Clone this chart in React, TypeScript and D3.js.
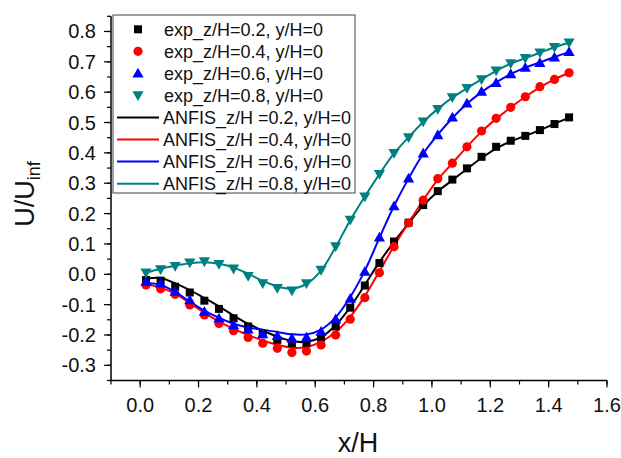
import React from "react";
import * as d3 from "d3";

const W = 621;
const H = 458;

const xValues = [0.02, 0.07, 0.12, 0.17, 0.22, 0.27, 0.32, 0.37, 0.42, 0.47, 0.52, 0.57, 0.62, 0.67, 0.72, 0.77, 0.82, 0.87, 0.92, 0.97, 1.02, 1.07, 1.12, 1.17, 1.22, 1.27, 1.32, 1.37, 1.42, 1.47];

const expZ02 = [-0.019, -0.021, -0.041, -0.06, -0.087, -0.114, -0.145, -0.172, -0.197, -0.216, -0.227, -0.227, -0.209, -0.172, -0.11, -0.037, 0.037, 0.108, 0.17, 0.228, 0.274, 0.312, 0.349, 0.387, 0.42, 0.44, 0.456, 0.475, 0.495, 0.517];
const expZ04 = [-0.035, -0.048, -0.066, -0.101, -0.134, -0.162, -0.186, -0.208, -0.227, -0.244, -0.258, -0.253, -0.233, -0.2, -0.148, -0.077, 0.005, 0.091, 0.169, 0.244, 0.315, 0.366, 0.42, 0.472, 0.514, 0.55, 0.585, 0.618, 0.642, 0.664];
const expZ06 = [-0.024, -0.03, -0.057, -0.085, -0.123, -0.145, -0.167, -0.181, -0.197, -0.203, -0.211, -0.208, -0.189, -0.148, -0.08, 0.009, 0.122, 0.225, 0.316, 0.399, 0.459, 0.517, 0.563, 0.602, 0.631, 0.66, 0.681, 0.697, 0.715, 0.733];
const expZ08 = [0.005, 0.016, 0.027, 0.038, 0.042, 0.033, 0.018, -0.006, -0.03, -0.046, -0.054, -0.03, 0.014, 0.092, 0.179, 0.256, 0.33, 0.399, 0.451, 0.503, 0.544, 0.583, 0.613, 0.642, 0.671, 0.695, 0.712, 0.73, 0.748, 0.763];

const anfisZ02 = [-0.015, -0.012, -0.03, -0.052, -0.078, -0.106, -0.136, -0.163, -0.185, -0.205, -0.22, -0.223, -0.207, -0.168, -0.108, -0.035, 0.04, 0.107, 0.168, 0.226, 0.273, 0.31, 0.347, 0.383, 0.414, 0.438, 0.456, 0.475, 0.496, 0.516];
const anfisZ04 = [-0.032, -0.044, -0.064, -0.095, -0.127, -0.155, -0.18, -0.2, -0.218, -0.232, -0.242, -0.24, -0.222, -0.19, -0.14, -0.072, 0.01, 0.093, 0.17, 0.244, 0.312, 0.366, 0.42, 0.47, 0.512, 0.55, 0.585, 0.616, 0.642, 0.664];
const anfisZ06 = [-0.028, -0.035, -0.058, -0.09, -0.12, -0.143, -0.163, -0.175, -0.183, -0.19, -0.198, -0.198, -0.182, -0.142, -0.075, 0.012, 0.12, 0.225, 0.316, 0.397, 0.46, 0.515, 0.562, 0.6, 0.632, 0.66, 0.681, 0.698, 0.716, 0.732];
const anfisZ08 = [0.005, 0.018, 0.028, 0.036, 0.04, 0.035, 0.022, 0.002, -0.022, -0.04, -0.048, -0.032, 0.012, 0.09, 0.178, 0.256, 0.33, 0.398, 0.452, 0.502, 0.545, 0.582, 0.613, 0.642, 0.67, 0.694, 0.712, 0.73, 0.748, 0.763];

const expLabels = ["exp_z/H=0.2, y/H=0", "exp_z/H=0.4, y/H=0", "exp_z/H=0.6, y/H=0", "exp_z/H=0.8, y/H=0"];
const anfisLabels = ["ANFIS_z/H =0.2, y/H=0", "ANFIS_z/H =0.4, y/H=0", "ANFIS_z/H =0.6, y/H=0", "ANFIS_z/H =0.8, y/H=0"];
const colors = ["#000000", "#ff0000", "#0000ff", "#008080"];
const symbols = ["square", "circle", "up", "down"];

const xTicks = [0, 0.2, 0.4, 0.6, 0.8, 1.0, 1.2, 1.4, 1.6];
const yTicks = [-0.3, -0.2, -0.1, 0.0, 0.1, 0.2, 0.3, 0.4, 0.5, 0.6, 0.7, 0.8];

const FONT = "'Liberation Sans', Arial, sans-serif";

function Marker({ kind, x, y, color }: { kind: string; x: number; y: number; color: string }) {
  if (kind === "square") return <rect x={x - 4} y={y - 4} width={8} height={8} fill={color} />;
  if (kind === "circle") return <circle cx={x} cy={y} r={4.6} fill={color} />;
  if (kind === "up") {
    const s = 5.6;
    return <path d={`M${x},${y - s}L${x + s},${y + s * 0.75}L${x - s},${y + s * 0.75}Z`} fill={color} />;
  }
  const s = 5.6;
  return <path d={`M${x},${y + s}L${x + s},${y - s * 0.75}L${x - s},${y - s * 0.75}Z`} fill={color} />;
}

export default function App() {
  const x = d3.scaleLinear().domain([-0.1, 1.6]).range([111, 607]);
  const y = d3.scaleLinear().domain([-0.35, 0.85]).range([380.5, 16.3]);
  const exp = [expZ02, expZ04, expZ06, expZ08];
  const anfis = [anfisZ02, anfisZ04, anfisZ06, anfisZ08];
  const line = d3
    .line<number>()
    .x((_, i) => x(xValues[i]))
    .y((d) => y(d))
    .curve(d3.curveCatmullRom.alpha(0.5));

  const xMinor = d3.range(-0.1, 1.61, 0.1).map((v) => +v.toFixed(2));
  const yMinor = d3.range(-0.35, 0.851, 0.05).map((v) => +v.toFixed(3));
  const x0 = x(-0.1);
  const y0 = y(-0.35);

  const legX = 113, legY = 15, legW = 242, legH = 178;
  const rowH = 22.05;

  return (
    <svg width={W} height={H} style={{ position: "absolute", left: 0, top: 0, background: "#fff" }} fontFamily={FONT}>
      <rect x={0} y={0} width={W} height={H} fill="#ffffff" />
      {anfis.map((vals, k) => (
        <path key={"l" + k} d={line(vals) || ""} fill="none" stroke={colors[k]} strokeWidth={2} />
      ))}
      {exp.map((vals, k) =>
        vals.map((v, i) => <Marker key={"m" + k + "-" + i} kind={symbols[k]} x={x(xValues[i])} y={y(v)} color={colors[k]} />)
      )}
      <line x1={x0} x2={x(1.6)} y1={y0} y2={y0} stroke="#000" strokeWidth={1.5} />
      <line x1={x0} x2={x0} y1={y0} y2={y(0.85)} stroke="#000" strokeWidth={1.5} />
      {xMinor.map((v) => (
        <line key={"xm" + v} x1={x(v)} x2={x(v)} y1={y0} y2={y0 + 4} stroke="#000" strokeWidth={1.2} />
      ))}
      {xTicks.map((v) => (
        <g key={"xt" + v}>
          <line x1={x(v)} x2={x(v)} y1={y0} y2={y0 + 7} stroke="#000" strokeWidth={1.2} />
          <text x={x(v)} y={412} textAnchor="middle" fontSize={20} fill="#111">
            {v.toFixed(1)}
          </text>
        </g>
      ))}
      {yMinor.map((v) => (
        <line key={"ym" + v} x1={x0 - 4} x2={x0} y1={y(v)} y2={y(v)} stroke="#000" strokeWidth={1.2} />
      ))}
      {yTicks.map((v) => (
        <g key={"yt" + v}>
          <line x1={x0 - 7} x2={x0} y1={y(v)} y2={y(v)} stroke="#000" strokeWidth={1.2} />
          <text x={96} y={y(v)} dy="0.35em" textAnchor="end" fontSize={20} fill="#111">
            {v.toFixed(1)}
          </text>
        </g>
      ))}
      <text x={358} y={452} textAnchor="middle" fontSize={27} fill="#111">
        x/H
      </text>
      <text transform={`translate(34,${194}) rotate(-90)`} textAnchor="middle" fontSize={27} fill="#111">
        U/U<tspan fontSize={18} dy={6}>inf</tspan>
      </text>
      <rect x={legX} y={legY} width={legW} height={legH} fill="#fff" stroke="#444" strokeWidth={1} />
      {expLabels.map((t, k) => {
        const cy = legY + 14.3 + k * rowH;
        return (
          <g key={"le" + k}>
            <Marker kind={symbols[k]} x={138} y={cy} color={colors[k]} />
            <text x={164} y={cy} dy="0.35em" fontSize={18} fill="#111">
              {t}
            </text>
          </g>
        );
      })}
      {anfisLabels.map((t, k) => {
        const cy = legY + 14.3 + (k + 4) * rowH;
        return (
          <g key={"la" + k}>
            <line x1={117} x2={159} y1={cy} y2={cy} stroke={colors[k]} strokeWidth={2} />
            <text x={163} y={cy} dy="0.35em" fontSize={18} fill="#111">
              {t}
            </text>
          </g>
        );
      })}
    </svg>
  );
}
